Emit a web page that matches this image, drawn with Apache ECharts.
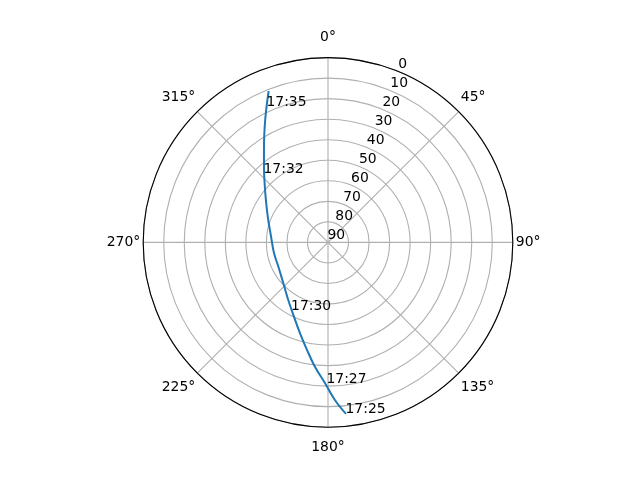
<!DOCTYPE html>
<html>
<head>
<meta charset="utf-8">
<script src="https://cdn.jsdelivr.net/npm/echarts@6/dist/echarts.min.js"></script>
<style>html,body{margin:0;padding:0;background:#fff}#c{width:640px;height:480px}</style>
</head>
<body>
<div id="c"></div>
<script>
// Pass track (azimuth in degrees clockwise from north, elevation in degrees)
const trackAz = [174.0, 177.5, 181.2, 186.0, 191.0, 197.1, 204.6, 214.6, 227.5, 243.9, 258.6,
                 277.4, 291.9, 303.3, 312.2, 319.2, 324.8, 329.3, 333.2, 336.0, 338.6];
const trackEl = [6.0, 13.2, 21.4, 29.1, 36.6, 43.7, 50.2, 55.9, 60.5, 63.1, 63.2,
                 61.9, 58.5, 53.9, 48.4, 42.3, 35.9, 29.2, 22.3, 16.7, 10.8];
// Time annotations
const timeLabels = ['17:25', '17:27', '17:30', '17:32', '17:35'];
const timeAz = [174.0, 180.4, 208.0, 316.9, 335.8];
const timeEl = [6.0, 21.0, 52.2, 44.4, 17.5];
// Axis ticks
const angleTicks = [0, 45, 90, 135, 180, 225, 270, 315];
const radiusTicks = [0, 10, 20, 30, 40, 50, 60, 70, 80, 90];
const radiusLabelAngle = 22.5;

const FONT = 'DejaVu Sans';
const FS = 13.9;

const chart = echarts.init(document.getElementById('c'), null, {renderer: 'canvas'});
chart.setOption({
  animation: false,
  backgroundColor: '#fff',
  polar: {center: [328, 242.4], radius: 184.8},
  angleAxis: {
    type: 'value', min: 0, max: 360, interval: 45,
    startAngle: 90, clockwise: true, z: 3,
    axisLine: {show: true, lineStyle: {color: '#000', width: 1.1}},
    axisTick: {show: false},
    splitLine: {show: true, lineStyle: {color: '#b0b0b0', width: 1.1}},
    axisLabel: {
      margin: 3, color: '#000', fontFamily: FONT, fontSize: FS,
      formatter: function (v) {
        if (angleTicks.indexOf(v) < 0) return '';
        if (v % 180 === 0) return '{tb|' + v + '°}';
        if (v % 90 !== 0) return '{dg|' + v + '°}';
        return v + '°';
      },
      rich: {
        tb: {lineHeight: 34, fontFamily: FONT, fontSize: FS, color: '#000'},
        dg: {lineHeight: 25, fontFamily: FONT, fontSize: FS, color: '#000'}
      }
    }
  },
  radiusAxis: {
    type: 'value', min: 0, max: 90, interval: 10, inverse: true, z: 1,
    axisLine: {show: false}, axisTick: {show: false}, axisLabel: {show: false},
    splitLine: {show: true, lineStyle: {color: '#b0b0b0', width: 1.1}}
  },
  series: [
    {
      type: 'line', coordinateSystem: 'polar',
      data: trackEl.map((e, i) => [e, trackAz[i]]),
      showSymbol: false, smooth: 0.4, silent: true, z: 5,
      lineStyle: {color: '#1f77b4', width: 2}
    },
    {
      type: 'scatter', coordinateSystem: 'polar', silent: true, z: 6,
      symbolSize: 1, itemStyle: {color: 'rgba(0,0,0,0)', opacity: 1},
      data: radiusTicks.map(r => [r, radiusLabelAngle]),
      label: {
        show: true, position: [0, 0], align: 'left', verticalAlign: 'bottom',
        color: '#000', opacity: 1, fontFamily: FONT, fontSize: FS,
        formatter: p => String(p.data[0])
      }
    },
    {
      type: 'scatter', coordinateSystem: 'polar', silent: true, z: 6,
      symbolSize: 1, itemStyle: {color: 'rgba(0,0,0,0)', opacity: 1},
      data: timeLabels.map((t, i) => ({name: t, value: [timeEl[i], timeAz[i]]})),
      label: {
        show: true, position: [0, 0], align: 'left', verticalAlign: 'bottom',
        offset: [0, 3],
        color: '#000', opacity: 1, fontFamily: FONT, fontSize: FS,
        formatter: p => p.name
      }
    }
  ]
});
</script>
</body>
</html>
